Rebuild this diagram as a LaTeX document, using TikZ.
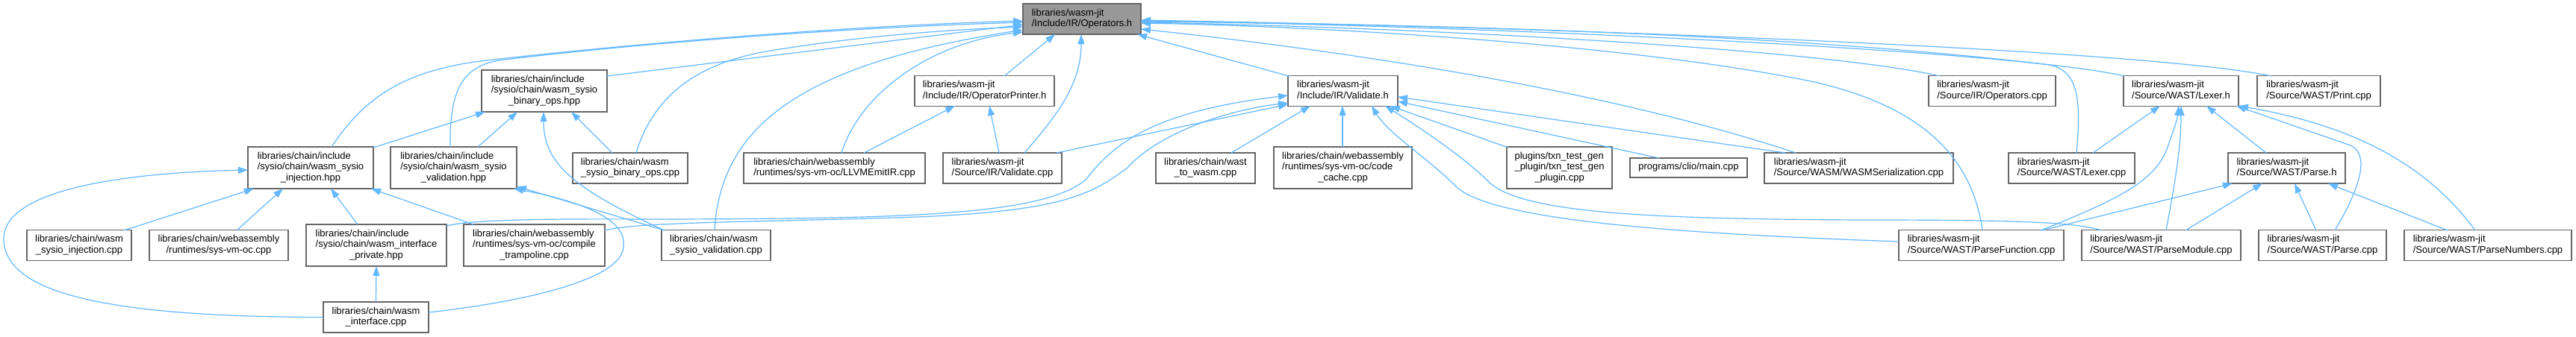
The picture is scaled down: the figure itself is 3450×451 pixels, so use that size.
\documentclass[tikz,border=0pt]{standalone}
\usepackage{fontspec}
\setmainfont{Liberation Sans}
\usetikzlibrary{arrows.meta,calc}
\definecolor{edgeblue}{HTML}{63B8FF}
\definecolor{nodeline}{HTML}{666666}
\definecolor{rootfill}{HTML}{999999}
\newcommand\lastln[1]{\multicolumn{1}{@{}c@{}}{#1}}
\newcommand\lbl[1]{\begin{tabular}{@{}l@{}}#1\end{tabular}}
\begin{document}
\begin{tikzpicture}[x=1pt,y=-1pt,
  box/.style={rectangle, draw=nodeline, fill=white, line width=1.2pt, inner sep=0pt, font=\fontsize{13}{14.5}\selectfont},
  rootbox/.style={box, fill=rootfill},
  hone/.style={minimum height=26pt},
  htwo/.style={minimum height=41pt},
  hthree/.style={minimum height=56pt},
  edge/.style={draw=edgeblue, line width=1.2pt, -{Triangle[length=13pt,width=9pt]}}]
\fill[white] (0,0) rectangle (3450,451);
\useasboundingbox (0,0) rectangle (3450,451);
% nodes
\node[rootbox,htwo,minimum width=158pt] (A) at (1449,25.5) {\lbl{libraries/wasm-jit\\\lastln{/Include/IR/Operators.h}}};
\node[box,hthree,minimum width=168pt] (B) at (729,122) {\lbl{libraries/chain/include\\/sysio/chain/wasm\_sysio\\\lastln{\_binary\_ops.hpp}}};
\node[box,hthree,minimum width=168pt] (C) at (416,225) {\lbl{libraries/chain/include\\/sysio/chain/wasm\_sysio\\\lastln{\_injection.hpp}}};
\node[box,hthree,minimum width=169pt] (D) at (607.5,225) {\lbl{libraries/chain/include\\/sysio/chain/wasm\_sysio\\\lastln{\_validation.hpp}}};
\node[box,htwo,minimum width=154pt] (E) at (844,225.5) {\lbl{libraries/chain/wasm\\\lastln{\_sysio\_binary\_ops.cpp}}};
\node[box,htwo,minimum width=140pt] (F) at (106,329) {\lbl{libraries/chain/wasm\\\lastln{\_sysio\_injection.cpp}}};
\node[box,htwo,minimum width=186pt] (G) at (293,329) {\lbl{libraries/chain/webassembly\\\lastln{/runtimes/sys-vm-oc.cpp}}};
\node[box,hthree,minimum width=188pt] (H) at (504,329) {\lbl{libraries/chain/include\\/sysio/chain/wasm\_interface\\\lastln{\_private.hpp}}};
\node[box,hthree,minimum width=189pt] (I) at (715.5,329) {\lbl{libraries/chain/webassembly\\/runtimes/sys-vm-oc/compile\\\lastln{\_trampoline.cpp}}};
\node[box,htwo,minimum width=141pt] (J) at (503.5,425.5) {\lbl{libraries/chain/wasm\\\lastln{\_interface.cpp}}};
\node[box,htwo,minimum width=146pt] (K) at (959,329) {\lbl{libraries/chain/wasm\\\lastln{\_sysio\_validation.cpp}}};
\node[box,htwo,minimum width=187pt] (L) at (1318.5,122) {\lbl{libraries/wasm-jit\\\lastln{/Include/IR/OperatorPrinter.h}}};
\node[box,htwo,minimum width=243pt] (M) at (1117.5,225.5) {\lbl{libraries/chain/webassembly\\\lastln{/runtimes/sys-vm-oc/LLVMEmitIR.cpp}}};
\node[box,htwo,minimum width=159pt] (N) at (1342.5,225.5) {\lbl{libraries/wasm-jit\\\lastln{/Source/IR/Validate.cpp}}};
\node[box,htwo,minimum width=147pt] (O) at (1798.5,122) {\lbl{libraries/wasm-jit\\\lastln{/Include/IR/Validate.h}}};
\node[box,htwo,minimum width=133pt] (P) at (1614.5,225.5) {\lbl{libraries/chain/wast\\\lastln{\_to\_wasm.cpp}}};
\node[box,hthree,minimum width=185pt] (Q) at (1798.5,225) {\lbl{libraries/chain/webassembly\\/runtimes/sys-vm-oc/code\\\lastln{\_cache.cpp}}};
\node[box,hthree,minimum width=141pt] (R) at (2088.5,225) {\lbl{plugins/txn\_test\_gen\\\_plugin/txn\_test\_gen\\\lastln{\_plugin.cpp}}};
\node[box,hone,minimum width=157pt] (S) at (2261.5,225) {\lbl{\lastln{programs/clio/main.cpp}}};
\node[box,htwo,minimum width=253pt] (T) at (2489.5,225.5) {\lbl{libraries/wasm-jit\\\lastln{/Source/WASM/WASMSerialization.cpp}}};
\node[box,htwo,minimum width=170pt] (U) at (2668,122) {\lbl{libraries/wasm-jit\\\lastln{/Source/IR/Operators.cpp}}};
\node[box,htwo,minimum width=154pt] (V) at (2921,122) {\lbl{libraries/wasm-jit\\\lastln{/Source/WAST/Lexer.h}}};
\node[box,htwo,minimum width=165pt] (W) at (3105.5,122) {\lbl{libraries/wasm-jit\\\lastln{/Source/WAST/Print.cpp}}};
\node[box,htwo,minimum width=169pt] (X) at (2774.5,225.5) {\lbl{libraries/wasm-jit\\\lastln{/Source/WAST/Lexer.cpp}}};
\node[box,htwo,minimum width=157pt] (Y) at (3062.5,225.5) {\lbl{libraries/wasm-jit\\\lastln{/Source/WAST/Parse.h}}};
\node[box,htwo,minimum width=221pt] (Z) at (2653.5,329) {\lbl{libraries/wasm-jit\\\lastln{/Source/WAST/ParseFunction.cpp}}};
\node[box,htwo,minimum width=213pt] (AA) at (2894.5,329) {\lbl{libraries/wasm-jit\\\lastln{/Source/WAST/ParseModule.cpp}}};
\node[box,htwo,minimum width=171pt] (AB) at (3110.5,329) {\lbl{libraries/wasm-jit\\\lastln{/Source/WAST/Parse.cpp}}};
\node[box,htwo,minimum width=224pt] (AC) at (3332,329) {\lbl{libraries/wasm-jit\\\lastln{/Source/WAST/ParseNumbers.cpp}}};
% edges to Operators.h
\draw[edge] ($(C)+(28,-28)$) .. controls (490,128) and (545,92) .. (660,80) .. controls (820,62) and (1100,36) .. ($(A)+(-79,2.5)$);
\draw[edge] ($(D)+(-4.5,-28)$) .. controls (602,128) and (615,90) .. (668,81) .. controls (820,62) and (1100,38) .. ($(A)+(-79,4.5)$);
\draw[edge] ($(B)+(84,-20)$) -- ($(A)+(-79,7.5)$);
\draw[edge] ($(E)+(8,-20.5)$) .. controls (875,130) and (930,88) .. (1020,70) .. controls (1150,48) and (1270,40) .. ($(A)+(-79,10.5)$);
\draw[edge] ($(K)+(-2,-20)$) .. controls (965,165) and (1080,85) .. ($(A)+(-79,14.5)$);
\draw[edge] ($(M)+(9.5,-20.5)$) .. controls (1150,130) and (1240,58) .. ($(A)+(-79,17.5)$);
\draw[edge] ($(L)+(26.5,-20)$) -- ($(A)+(-36,20.5)$);
\draw[edge] ($(N)+(29.5,-20.5)$) .. controls (1420,150) and (1448,110) .. ($(A)+(-1,20.5)$);
\draw[edge] ($(O)+(-72.5,-20)$) -- ($(A)+(74,20.5)$);
\draw[edge] ($(T)+(-84.5,-20.5)$) .. controls (2150,120) and (1800,68) .. ($(A)+(79,13.5)$);
\draw[edge] ($(U)+(-70,-20)$) .. controls (2450,68) and (1950,38) .. ($(A)+(79,4.5)$);
\draw[edge] ($(V)+(-76,-20)$) .. controls (2700,68) and (2000,35) .. ($(A)+(79,2.5)$);
\draw[edge] ($(W)+(-63.5,-20)$) .. controls (2880,68) and (2150,38) .. ($(A)+(79,1.5)$);
\draw[edge] ($(X)+(6.5,-20.5)$) .. controls (2788,130) and (2782,95) .. (2745,87) .. controls (2400,45) and (1900,32) .. ($(A)+(79,3.5)$);
\draw[edge] ($(Z)+(1.5,-20)$) .. controls (2640,200) and (2560,140) .. (2430,110) .. controls (2200,62) and (1800,36) .. ($(A)+(79,5.5)$);
% edges to wasm_sysio_binary_ops.hpp
\draw[edge] ($(C)+(84,-27)$) -- ($(B)+(-79,28)$);
\draw[edge] ($(D)+(32.5,-28)$) -- ($(B)+(-36,28)$);
\draw[edge] ($(K)+(-69,-20)$) .. controls (760,250) and (728,215) .. ($(B)+(-1,28)$);
\draw[edge] ($(E)+(-24,-20.5)$) -- ($(B)+(36,28)$);
% edges to wasm_sysio_injection.hpp
\draw[edge] ($(F)+(60,-20)$) -- ($(C)+(-76,28)$);
\draw[edge] ($(G)+(24,-20)$) -- ($(C)+(-37,28)$);
\draw[edge] ($(H)+(-25,-28)$) -- ($(C)+(27,28)$);
\draw[edge] ($(I)+(-81.5,-28)$) -- ($(C)+(81,28)$);
\draw[edge] ($(J)+(-70.5,0)$) .. controls (150,425) and (5,395) .. (5,320) .. controls (5,258) and (150,232) .. ($(C)+(-84,3)$);
% edges to wasm_sysio_validation.hpp
\draw[edge] ($(K)+(-69,-20)$) -- ($(D)+(84.5,25)$);
\draw[edge] ($(J)+(70.5,-6.5)$) .. controls (700,405) and (835,375) .. (835,330) .. controls (840,295) and (780,270) .. ($(D)+(80.5,28)$);
% edge to wasm_interface_private.hpp
\draw[edge] ($(J)+(0,-20.5)$) -- ($(H)+(0,28)$);
% edges to OperatorPrinter.h
\draw[edge] ($(M)+(39.5,-20.5)$) -- ($(L)+(-39.5,20)$);
\draw[edge] ($(N)+(-4.5,-20.5)$) -- ($(L)+(6.5,20)$);
% edges to Validate.h
\draw[edge] ($(N)+(72.5,-20.5)$) -- ($(O)+(-73.5,18)$);
\draw[edge] ($(H)+(94,-26)$) .. controls (640,292) and (800,294) .. (900,294) .. controls (1200,293) and (1400,290) .. (1455,240) .. controls (1490,195) and (1540,150) .. ($(O)+(-73.5,6)$);
\draw[edge] ($(I)+(94.5,-20)$) .. controls (850,298) and (1000,298) .. (1200,292) .. controls (1420,285) and (1460,262) .. (1510,225) .. controls (1550,180) and (1640,148) .. ($(O)+(-73.5,16)$);
\draw[edge] ($(P)+(34.5,-20.5)$) -- ($(O)+(-43.5,20)$);
\draw[edge] ($(Q)+(-0.5,-28)$) -- ($(O)+(-0.5,20)$);
\draw[edge] ($(R)+(-68.5,-27)$) -- ($(O)+(63.5,20)$);
\draw[edge] ($(S)+(-39.5,-13)$) -- ($(O)+(73.5,14)$);
\draw[edge] ($(T)+(-98.5,-20.5)$) -- ($(O)+(73.5,8)$);
\draw[edge] ($(Z)+(-110.5,-5)$) .. controls (2300,315) and (2000,300) .. (1950,250) .. controls (1910,210) and (1860,180) .. ($(O)+(38.5,20)$);
\draw[edge] ($(AA)+(-79.5,-20)$) .. controls (2780,298) and (2700,295) .. (2500,295) .. controls (2200,294) and (2040,285) .. (1995,245) .. controls (1960,210) and (1900,170) .. ($(O)+(56.5,20)$);
% edges to Lexer.h
\draw[edge] ($(X)+(28.5,-20.5)$) -- ($(V)+(-28,20)$);
\draw[edge] ($(Z)+(79.5,-20)$) .. controls (2830,270) and (2885,245) .. (2902,200) .. controls (2912,172) and (2916,160) .. ($(V)+(-3,20)$);
\draw[edge] ($(AA)+(6.5,-20)$) .. controls (2912,250) and (2921,200) .. ($(V)+(0,20)$);
\draw[edge] ($(Y)+(-27.5,-20.5)$) -- ($(V)+(34,20)$);
\draw[edge] ($(AB)+(16.5,-20)$) .. controls (3168,240) and (3170,205) .. (3148,195) -- ($(V)+(74,20)$);
\draw[edge] ($(AC)+(-17,-20)$) .. controls (3250,220) and (3150,168) .. ($(V)+(77,20)$);
% edges to Parse.h
\draw[edge] ($(Z)+(81.5,-20)$) -- ($(Y)+(-72.5,20.5)$);
\draw[edge] ($(AA)+(32.5,-20)$) -- ($(Y)+(-32.5,20.5)$);
\draw[edge] ($(AB)+(-8.5,-20)$) -- ($(Y)+(10.5,20.5)$);
\draw[edge] ($(AC)+(-54,-20)$) -- ($(Y)+(55.5,20.5)$);
\end{tikzpicture}
\end{document}
